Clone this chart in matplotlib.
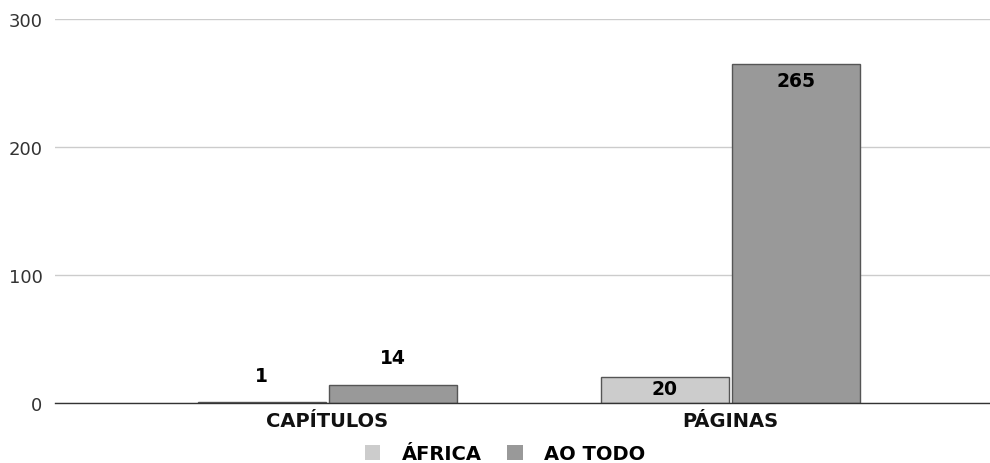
import numpy as np
import matplotlib.pyplot as plt
from matplotlib.patches import Patch

plt.rcParams['font.family'] = ['DejaVu Sans']

categorias = ['CAPÍTULOS', 'PÁGINAS']
series = ['ÁFRICA', 'AO TODO']
africa = [1, 20]
ao_todo = [14, 265]
cores = ['#cccccc', '#999999']

fig = plt.figure(figsize=(9.9, 4.64), dpi=100)
ax = fig.add_axes([55/990, 60/464, 935/990, 384/464])

x = np.arange(len(categorias))
w = 0.318
gap = 0.004
b1 = ax.bar(x - w/2 - gap, africa, w, color=cores[0], edgecolor='#555555', linewidth=1)
b2 = ax.bar(x + w/2 + gap, ao_todo, w, color=cores[1], edgecolor='#555555', linewidth=1)

# value labels: above short bars, inside tall ones
for bars, vals in [(b1, africa), (b2, ao_todo)]:
    for rect, v in zip(bars, vals):
        cx = rect.get_x() + rect.get_width()/2
        if v < 15:
            off = 19 if v < 5 else 20
        else:
            off = -8 if v < 100 else -12
        ax.annotate(str(v), (cx, v), xytext=(0, off), textcoords='offset points',
                    ha='center', va='center', fontsize=13.5, fontweight='bold', color='black')

ax.set_xlim(-0.676, 1.644)
ax.set_ylim(0, 300)
ax.set_yticks([0, 100, 200, 300])
ax.yaxis.grid(True, color='#cccccc', linewidth=1)
ax.set_axisbelow(True)
for s in ['top', 'right', 'left']:
    ax.spines[s].set_visible(False)
ax.spines['bottom'].set_color('#333333')
ax.spines['bottom'].set_linewidth(1)
ax.tick_params(axis='y', length=0, pad=9, labelsize=13, labelcolor='#333333')
ax.tick_params(axis='x', length=0, pad=6)
ax.set_xticks(x)
ax.set_xticklabels(categorias, fontsize=14, fontweight='bold', color='#111111')

handles = [Patch(facecolor=c, edgecolor='none') for c in cores]
fig.legend(handles, series, loc='center', bbox_to_anchor=(505/990, 1 - 455/464),
           ncol=2, frameon=False, prop={'weight': 'bold', 'size': 14},
           handlelength=0.8, handleheight=0.8, columnspacing=1.3, handletextpad=1.1)

fig.savefig('out.png', dpi=100)
